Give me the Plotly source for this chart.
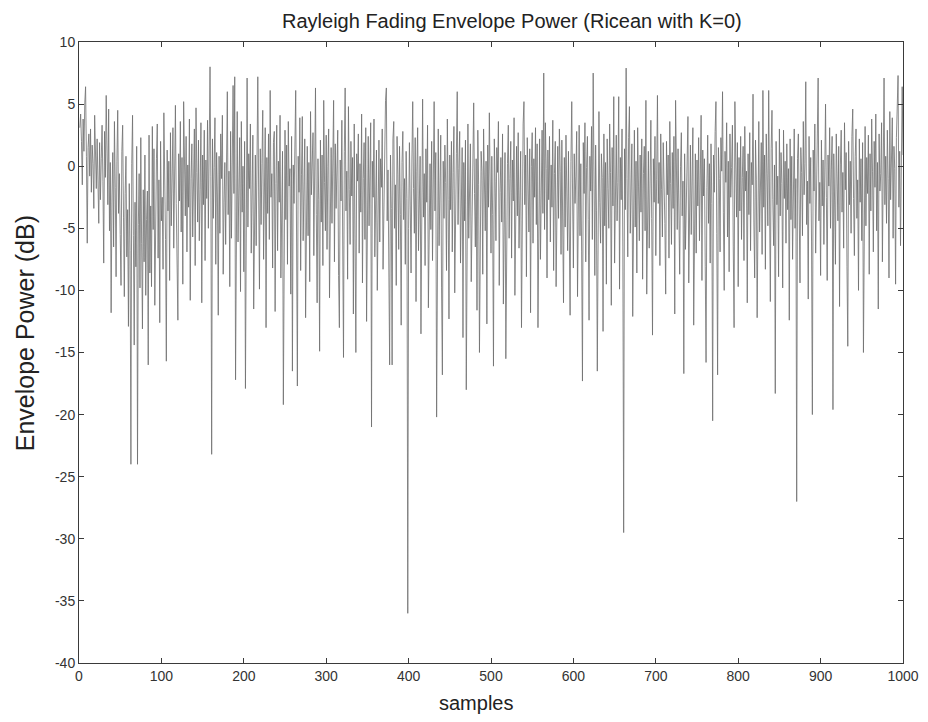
import plotly.graph_objects as go

# Envelope power (dB), samples 1..1000, 50 per row
power_db = [
    3.1, 4.2, 2.0, -1.5, 3.8, 1.2, 5.1, 6.4, 0.8, -6.2, 1.5, 2.6, -0.8, 3.0, -2.1, 1.7, 0.2, -3.4, 4.1, 0.5,
    -1.8, 2.2, -0.3, -4.6, 1.9, -2.7, 0.6, 3.3, -1.2, -7.8, 2.8, -0.9, 5.7, 1.4, -3.1, 4.6, -5.2, 0.3, -11.8, -2.4,
    1.1, -6.5, 3.6, -1.7, -8.9, 0.4, 4.5, -3.8, -0.6, -5.5,
    -9.6, 1.2, 3.3, -4.1, -10.5, -2.2, 0.8, -7.3, -3.5, -12.9, -1.4, -6.8, -24.0, 0.2, 4.1, -5.6, -14.4, -2.9, -8.1, 1.6,
    -24.0, -4.7, -0.6, -9.8, 2.3, -6.2, -13.1, -1.9, -7.7, 0.9, -10.4, -4.3, -2.0, -16.0, 2.5, -8.6, -3.2, -9.7, 3.2, -5.1,
    1.4, -11.2, -3.7, 0.6, 3.4, -7.4, -1.1, -12.6, 2.0, -4.4,
    -2.5, -8.3, 4.3, -0.7, -5.9, -15.7, 1.3, -3.6, 0.4, -9.2, 2.7, -4.8, -1.3, 3.1, -6.6, -0.2, 4.9, -3.0, -7.1, -12.4,
    1.0, -2.8, 3.6, -5.3, 0.7, -9.5, 5.2, -1.6, -4.0, 2.4, -6.9, 0.1, -3.3, 3.8, -10.8, -1.0, 1.8, -5.7, -2.3, 3.0,
    -8.0, 4.7, -0.5, -4.5, 2.1, -6.0, -1.9, 3.5, -11.0, 0.9,
    -3.1, 2.9, -7.6, 0.5, -2.6, 3.7, -5.0, 1.6, 8.0, -0.8, -23.2, 2.2, -4.2, -0.1, 3.9, -7.9, 1.1, -2.4, -12.0, 0.8,
    -5.4, 2.6, -1.0, 4.1, -8.7, -2.9, 0.3, -6.3, 3.2, 6.0, -3.9, -0.4, -9.7, 2.8, -5.8, 1.5, 6.5, -2.2, 7.2, -17.2,
    0.6, 4.4, -6.1, -1.5, 2.3, -10.1, 3.6, -3.7, 0.0, -8.5,
    2.0, -17.9, -2.6, 7.1, -4.9, 1.0, -1.8, 3.4, -7.0, -0.3, 2.5, -11.5, -3.3, 0.9, -6.4, 4.0, 7.2, -2.0, -9.9, 1.4,
    -4.7, 0.2, 4.5, -7.5, -1.2, 3.1, -13.0, 0.7, -3.8, 2.6, -5.9, 6.1, -2.5, -0.6, -8.2, 1.9, 2.8, -11.7, -1.4, 3.3,
    -6.8, 0.4, -2.9, 4.1, -9.0, -3.5, 1.2, -19.2, -0.9, 2.9,
    -4.3, 1.7, -7.9, 3.6, -1.6, -0.2, -10.3, 2.4, -16.5, 0.1, -3.0, 1.3, 6.1, -5.3, -17.7, 0.8, -2.1, 3.9, -8.4, -0.7,
    4.0, -6.0, -1.1, 2.2, -12.2, -3.2, 1.6, -5.6, 0.3, -9.3, 4.4, -2.3, -0.5, 2.7, -7.2, 1.0, 6.3, -3.9, -11.0, 0.6,
    -2.7, -14.9, 2.1, -4.5, 0.9, -8.0, 5.3, -1.3, -5.2, 2.5,
    -6.7, 0.0, 3.0, -10.6, -2.0, 1.5, -4.6, -0.8, 5.3, -7.7, 1.8, -3.4, -0.1, 2.9, -8.8, -13.0, 0.5, -2.8, 3.7, -5.5,
    -15.4, 1.2, 6.3, -3.6, -0.4, -9.1, 4.8, -1.9, -6.3, 2.0, -2.4, 0.7, -11.9, 3.4, -4.0, -15.0, 1.0, -1.2, 2.6, -7.0,
    0.2, -3.7, 4.2, -9.4, -1.0, 1.9, -5.9, 3.1, -12.5, -0.6,
    2.4, -4.8, -0.9, 3.5, -21.0, 0.4, -2.5, 3.8, -7.3, -1.4, 1.3, -10.0, -3.1, 2.1, -6.1, 0.6, -1.7, 3.0, -8.3, -2.0,
    1.0, 5.3, 6.3, -4.4, -0.3, -11.3, -16.0, 0.9, -3.4, -16.0, 2.2, 3.6, -5.0, -1.5, -9.6, 2.4, -0.7, -6.7, 1.6, -3.9,
    -12.8, 0.3, 2.8, -4.3, -1.0, -7.9, 1.2, -2.6, -36.0, -5.0,
    1.9, -3.2, -8.6, 0.5, 5.2, -1.8, -5.4, 2.3, -10.9, -0.4, 3.1, -6.8, -2.2, 0.8, -13.5, 2.6, 5.4, -4.1, -0.6, -8.0,
    1.4, -2.9, 3.3, -11.4, -1.1, 0.2, -5.1, 2.0, -7.6, -0.2, 5.2, -3.6, 1.1, -20.2, -2.4, 3.0, -6.4, -0.9, 2.5, -9.8,
    -16.8, 0.4, -4.2, 1.7, -1.3, -8.4, 3.8, -2.7, -12.3, 0.9,
    -3.5, 2.0, -6.9, -0.5, 3.2, -10.2, -1.8, 1.0, 6.0, -4.7, -0.2, 2.8, -7.8, -2.5, 1.5, -13.8, 0.3, -4.4, 2.1, -18.0,
    -1.0, 3.4, -5.8, -0.8, 1.8, -9.3, -3.0, 2.4, 5.1, -2.2, -6.5, 0.6, -11.6, 2.9, -1.5, -15.0, -4.1, 1.2, -0.4, -8.7,
    3.0, -2.0, -5.2, 0.4, -12.7, 1.7, -3.3, 4.3, -1.1, -7.0,
    0.8, -3.9, -16.1, 2.2, -1.2, -6.0, 1.5, -0.5, 3.6, -9.6, -2.1, 0.7, -4.5, 2.6, -11.1, -1.6, 1.1, -15.5, -3.4, 0.2,
    3.3, -5.8, -1.0, 2.0, -7.4, 0.5, -2.8, 3.9, -10.4, -0.9, 1.6, -4.0, 2.7, -6.6, -0.3, 1.2, -13.0, -2.3, 3.4, 5.2,
    -3.1, 0.9, -8.9, 2.3, -1.7, -5.3, 1.4, -11.8, 0.0, 2.7,
    -6.2, 0.6, -2.5, 3.1, -4.7, 1.8, -13.0, -0.7, 2.2, -7.5, -1.4, 2.9, -3.8, 7.5, -5.1, 3.5, -0.2, -9.0, 1.3, -2.7,
    2.4, -6.1, 0.1, -3.3, 3.7, -8.4, -0.6, 2.0, -9.7, -1.9, 1.6, -4.2, 3.0, -0.4, -7.1, 2.1, -2.8, -11.0, 0.7, -4.9,
    2.5, -1.0, -6.8, 1.2, -3.5, -12.0, 0.4, 5.2, -2.4, -8.2,
    1.0, -3.0, -0.8, 2.8, -10.5, -1.5, 3.3, -5.6, 0.2, -6.9, -17.3, 1.9, -2.2, 3.5, -7.7, -0.1, 2.4, -4.3, -12.4, 0.8,
    -2.0, 3.2, -5.9, 7.5, -1.2, -8.8, 1.7, -3.6, -16.5, 0.5, 4.4, -2.9, -6.2, 1.0, -0.9, -13.3, 2.6, -4.8, 0.3, -9.5,
    2.2, -1.8, -5.0, 3.4, -0.5, -11.2, 1.5, -3.2, 5.6, -7.8,
    -0.9, 2.5, -4.4, -1.3, 5.6, -9.9, 0.7, -2.7, 3.0, -6.5, -29.5, 1.4, -3.5, 7.9, -1.0, -7.3, 2.3, 4.8, -5.4, -0.3,
    1.8, -12.1, -2.4, 2.9, -4.9, 0.4, -8.6, 3.1, -1.6, -6.0, 0.9, -3.7, 2.2, -9.1, -0.6, 1.6, -5.2, 5.3, -10.3, -2.1,
    1.2, -6.6, -0.2, 3.7, -4.2, -13.6, 0.6, -2.9, 2.4, -7.2,
    -1.1, 5.7, -3.0, 0.3, -8.0, 2.6, -1.9, -5.7, 1.9, -0.7, -4.6, -10.3, 2.0, -2.3, 0.9, -7.4, 3.6, -1.4, -6.3, 1.1,
    -3.4, 2.4, -11.9, 5.3, -0.8, -5.1, 1.4, -2.6, -8.7, 0.0, 2.7, -4.0, -1.2, -16.7, 1.0, -6.7, -2.2, 2.1, 4.0, -9.4,
    -1.5, 1.7, -5.5, -0.1, 3.1, -12.8, -2.6, 1.0, -7.0, 0.5,
    -3.2, 2.3, -6.0, -0.6, 4.1, -9.2, 1.3, -2.4, 0.6, -8.1, -15.8, -1.7, 2.5, -4.6, 0.2, -7.8, 1.8, -3.0, -20.5, 0.9,
    -2.1, 2.8, 5.2, -5.4, -16.8, 1.5, -1.0, -6.9, 2.3, -0.4, 6.0, -3.7, -10.0, 1.2, -1.3, 3.5, -5.7, 0.4, -8.5, 2.6,
    -2.5, -0.1, 3.3, -6.5, -13.0, 5.2, -1.6, -4.1, 1.9, -9.7,
    0.7, -3.6, 2.4, -5.9, -0.9, 1.6, -7.6, 3.2, -2.0, -0.4, -11.0, 1.0, -3.9, 2.7, -6.8, 0.3, -1.5, 5.8, -4.5, -9.0,
    2.1, -1.1, -12.2, 0.6, 3.6, -5.3, -2.4, 1.9, -7.1, 6.1, -3.3, 0.9, -8.3, 2.6, -0.6, -4.8, 6.1, -1.9, -10.9, 1.4,
    4.5, -2.7, -6.4, 0.1, -18.3, 2.0, -3.1, -0.8, -8.9, 3.0,
    -4.0, 1.1, -1.4, -9.8, 2.9, -2.6, 0.4, -6.2, 1.8, -3.5, -0.2, -12.4, 2.2, -4.3, 0.8, -7.5, -1.8, 3.0, -5.0, -1.0,
    -27.0, 0.6, 2.6, -3.8, -9.4, 1.5, -0.5, -5.6, 3.6, -2.3, 0.2, 6.8, -4.7, -1.2, -10.7, 2.4, -3.0, 0.7, -6.1, -20.0,
    1.3, -2.0, 3.4, -7.0, -0.7, 2.0, 7.1, -4.4, -1.3, -8.8,
    2.1, -3.2, 0.5, -6.3, 1.7, 5.0, -2.5, -9.2, 0.9, -1.6, 3.1, -5.0, -0.3, 2.4, -19.6, 1.0, -2.8, -7.9, 2.6, -0.9,
    -4.4, 1.6, -11.3, 0.1, 2.9, -3.7, -0.5, -6.6, 3.5, -1.9, 1.1, -8.1, -14.5, 2.0, -3.1, 0.4, -5.4, 2.4, 4.6, -2.6,
    -7.2, 0.8, 3.0, -4.2, -1.1, -10.0, 2.2, -2.9, 0.6, -6.0,
    1.9, -15.0, -1.4, 3.2, -4.8, 0.7, -2.2, 2.5, -8.7, 1.0, -3.6, 3.8, -0.4, -6.9, 2.0, -1.7, 4.2, -5.2, 0.3, -11.5,
    2.6, -2.0, -0.6, 3.5, -7.7, 1.3, 7.1, -3.1, 0.8, -4.6, 2.9, -1.0, -9.0, 4.4, -2.7, 0.5, 3.9, -5.8, 1.6, -0.2,
    -9.5, 2.3, 5.0, 7.3, -3.3, 1.2, -6.4, 4.0, 6.4, 0.9,
]
samples = list(range(1, len(power_db) + 1))

x_ticks = [0, 100, 200, 300, 400, 500, 600, 700, 800, 900, 1000]
y_ticks = [10, 5, 0, -5, -10, -15, -20, -25, -30, -35, -40]
y_tick_labels = ["10", "5", "0", "-5", "-10", "-15", "-20", "-25", "-30", "-35", "-40"]

TITLE = "Rayleigh Fading Envelope Power (Ricean with K=0)"
X_TITLE = "samples"
Y_TITLE = "Envelope Power (dB)"

FONT = "Liberation Sans, Arial, sans-serif"

fig = go.Figure()
fig.add_trace(go.Scatter(
    x=samples, y=power_db, mode="lines",
    line=dict(color="#6e6e6e", width=0.8),
    showlegend=False, hoverinfo="skip",
))

axis_common = dict(
    showline=True, linecolor="#3a3a3a", linewidth=1, mirror="ticks",
    ticks="inside", ticklen=5, tickcolor="#3a3a3a",
    showgrid=False, zeroline=False, automargin=False,
    tickfont=dict(family=FONT, size=14, color="#333333"),
)

fig.update_layout(
    width=920, height=714,
    paper_bgcolor="white", plot_bgcolor="white",
    margin=dict(l=71, r=25, t=34, b=59),
    xaxis=dict(range=[0, 1000], tickvals=x_ticks, **axis_common),
    yaxis=dict(range=[-40, 10], tickvals=y_ticks, ticktext=y_tick_labels, **axis_common),
    annotations=[
        dict(text=TITLE, xref="paper", yref="paper", x=0.5255, y=1.0345,
             xanchor="center", yanchor="middle", showarrow=False,
             font=dict(family=FONT, size=20, color="#222222")),
        dict(text=X_TITLE, xref="paper", yref="paper", x=0.482, y=-0.064,
             xanchor="center", yanchor="middle", showarrow=False,
             font=dict(family=FONT, size=20, color="#222222")),
        dict(text=Y_TITLE, xref="paper", yref="paper", x=-0.0655, y=0.531,
             xanchor="center", yanchor="middle", showarrow=False, textangle=-90,
             font=dict(family=FONT, size=25, color="#222222")),
    ],
)

fig.write_html("out.html")
